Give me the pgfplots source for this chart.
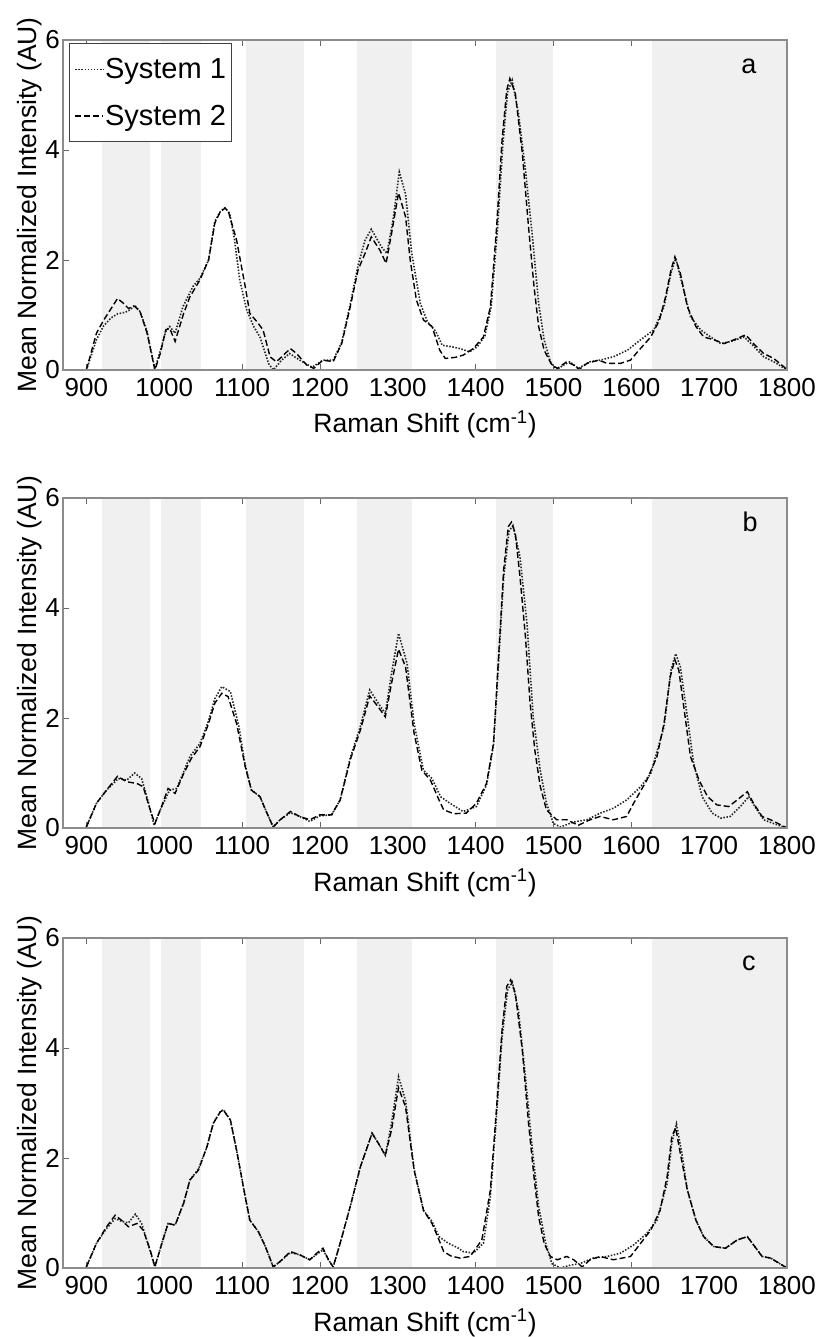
\documentclass[border=0pt]{standalone}
\usepackage{fontspec}
\setmainfont{Liberation Sans}
\usepackage{pgfplots}
\usepackage{pgfplotstable}
\pgfplotsset{compat=1.18}
\definecolor{bandgray}{HTML}{F0F0F0}

\pgfplotstableread{
x y
900 0.00
913 0.55
922 0.80
932 0.95
940 1.02
950 1.05
957 1.10
962 1.18
969 1.06
978 0.70
988 0.02
995 0.35
1002 0.70
1007 0.79
1014 0.67
1024 1.15
1037 1.52
1046 1.67
1057 2.00
1065 2.70
1072 2.88
1078 2.95
1084 2.85
1090 2.40
1097 1.64
1106 1.09
1115 0.79
1123 0.60
1134 0.12
1140 0.00
1151 0.18
1161 0.30
1174 0.18
1190 0.05
1204 0.18
1217 0.18
1228 0.50
1239 1.20
1249 1.90
1258 2.36
1266 2.56
1279 2.24
1286 2.12
1294 2.73
1302 3.60
1310 3.20
1318 2.12
1329 1.21
1338 0.88
1349 0.70
1357 0.45
1370 0.42
1380 0.39
1392 0.33
1402 0.42
1412 0.62
1420 1.15
1428 2.55
1435 4.10
1441 5.05
1447 5.27
1455 4.67
1464 3.64
1473 2.42
1481 1.21
1488 0.55
1496 0.15
1504 0.00
1513 0.09
1521 0.15
1532 0.03
1547 0.15
1560 0.18
1577 0.24
1595 0.36
1612 0.55
1629 0.73
1642 1.15
1651 1.76
1657 2.03
1665 1.58
1676 0.97
1689 0.73
1702 0.60
1715 0.48
1728 0.52
1745 0.60
1756 0.45
1770 0.24
1783 0.15
1800 0.00
}\aone

\pgfplotstableread{
x y
900 0.00
913 0.67
922 0.90
931 1.10
940 1.30
947 1.22
954 1.12
962 1.16
969 1.06
978 0.67
988 0.00
995 0.30
1002 0.73
1007 0.76
1014 0.52
1025 1.03
1033 1.33
1046 1.64
1057 2.00
1065 2.67
1072 2.88
1078 2.94
1082 2.90
1093 2.36
1104 1.52
1110 1.03
1119 0.88
1127 0.73
1136 0.24
1144 0.15
1151 0.24
1162 0.39
1170 0.30
1183 0.09
1192 0.03
1204 0.18
1217 0.15
1228 0.48
1239 1.15
1249 1.82
1258 2.12
1266 2.42
1277 2.18
1285 1.94
1292 2.48
1301 3.22
1310 2.79
1316 2.00
1324 1.27
1333 0.91
1344 0.79
1354 0.36
1361 0.21
1374 0.23
1384 0.27
1397 0.39
1410 0.60
1419 1.15
1427 2.60
1434 4.18
1440 5.09
1444 5.30
1451 5.03
1460 3.94
1468 2.60
1475 1.52
1481 0.79
1488 0.36
1498 0.09
1505 0.03
1517 0.15
1526 0.09
1533 0.01
1543 0.12
1558 0.18
1569 0.12
1586 0.12
1599 0.18
1608 0.33
1625 0.60
1636 0.90
1644 1.33
1651 1.82
1656 2.06
1663 1.76
1672 1.15
1683 0.79
1693 0.60
1706 0.55
1719 0.48
1732 0.55
1747 0.64
1757 0.48
1770 0.30
1783 0.21
1800 0.01
}\atwo

\pgfplotstableread{
x y
900 0.02
913 0.45
926 0.69
941 0.90
952 0.87
962 1.00
971 0.90
980 0.45
987 0.05
995 0.33
1007 0.69
1016 0.72
1025 1.02
1033 1.30
1046 1.54
1057 1.95
1065 2.35
1074 2.57
1085 2.48
1096 1.84
1104 1.15
1112 0.69
1123 0.57
1132 0.27
1140 0.02
1149 0.15
1162 0.28
1174 0.21
1187 0.12
1200 0.22
1215 0.24
1226 0.51
1239 1.28
1252 1.85
1264 2.51
1275 2.27
1284 2.08
1292 2.81
1301 3.54
1312 2.99
1321 1.90
1333 1.05
1344 0.90
1355 0.57
1367 0.45
1384 0.30
1401 0.39
1414 0.78
1423 1.50
1429 2.90
1436 4.55
1443 5.40
1448 5.50
1457 4.93
1466 3.72
1474 2.02
1483 1.05
1491 0.45
1500 0.08
1509 0.02
1526 0.11
1543 0.15
1560 0.27
1577 0.36
1594 0.51
1612 0.75
1625 0.99
1642 1.84
1651 2.87
1657 3.17
1663 2.93
1672 2.02
1680 1.18
1691 0.57
1704 0.27
1715 0.18
1727 0.21
1740 0.39
1751 0.57
1760 0.36
1770 0.15
1783 0.08
1800 0.00
}\bone

\pgfplotstableread{
x y
900 0.02
913 0.45
926 0.69
940 0.94
952 0.84
965 0.81
973 0.75
982 0.33
988 0.08
995 0.33
1005 0.72
1014 0.63
1025 0.99
1035 1.27
1046 1.48
1057 1.90
1065 2.27
1074 2.45
1082 2.39
1093 1.90
1104 1.12
1112 0.69
1123 0.57
1132 0.27
1140 0.02
1149 0.15
1162 0.30
1174 0.21
1187 0.15
1200 0.24
1215 0.24
1226 0.51
1239 1.24
1252 1.78
1264 2.40
1275 2.20
1284 2.02
1292 2.63
1301 3.25
1310 2.93
1321 1.72
1331 1.05
1342 0.87
1353 0.51
1359 0.33
1372 0.26
1388 0.27
1401 0.45
1414 0.81
1423 1.54
1429 2.99
1436 4.69
1442 5.48
1446 5.56
1451 5.36
1457 4.57
1464 3.48
1470 2.27
1476 1.42
1483 0.76
1491 0.33
1504 0.15
1517 0.15
1532 0.05
1547 0.15
1560 0.21
1577 0.15
1594 0.21
1603 0.45
1620 0.87
1633 1.30
1642 1.90
1650 2.75
1656 3.06
1661 2.87
1668 2.14
1676 1.30
1687 0.87
1698 0.57
1710 0.42
1725 0.39
1736 0.51
1749 0.66
1757 0.45
1768 0.21
1779 0.15
1800 0.00
}\btwo

\pgfplotstableread{
x y
900 0.02
913 0.45
926 0.72
937 0.90
945 0.85
954 0.82
963 0.98
971 0.81
980 0.40
988 0.02
997 0.45
1005 0.81
1014 0.78
1025 1.18
1033 1.60
1044 1.80
1055 2.21
1063 2.63
1072 2.84
1076 2.88
1085 2.69
1093 2.14
1104 1.30
1110 0.87
1121 0.66
1130 0.39
1140 0.02
1149 0.12
1162 0.28
1174 0.24
1187 0.15
1196 0.25
1204 0.33
1211 0.15
1217 0.02
1226 0.45
1239 1.12
1252 1.84
1267 2.45
1275 2.27
1284 2.05
1292 2.63
1301 3.48
1310 3.05
1321 1.80
1333 1.05
1344 0.85
1353 0.57
1365 0.45
1378 0.36
1384 0.30
1397 0.27
1410 0.45
1419 1.30
1427 2.80
1434 4.20
1441 5.05
1447 5.20
1455 4.69
1464 3.48
1473 2.14
1481 1.12
1490 0.45
1498 0.08
1509 0.00
1521 0.05
1534 0.08
1551 0.18
1569 0.21
1586 0.27
1603 0.42
1620 0.63
1633 0.87
1646 1.54
1652 2.27
1658 2.62
1665 2.08
1672 1.42
1683 0.87
1693 0.57
1706 0.39
1721 0.36
1736 0.51
1749 0.57
1757 0.42
1768 0.21
1779 0.18
1800 0.00
}\cone

\pgfplotstableread{
x y
900 0.02
913 0.45
926 0.75
937 0.96
945 0.87
954 0.75
965 0.81
973 0.69
982 0.33
988 0.02
997 0.45
1005 0.81
1014 0.78
1025 1.18
1033 1.60
1044 1.78
1055 2.21
1063 2.63
1072 2.84
1076 2.87
1085 2.69
1093 2.14
1104 1.30
1110 0.87
1121 0.66
1130 0.39
1140 0.02
1149 0.12
1162 0.30
1174 0.24
1187 0.15
1196 0.27
1204 0.36
1211 0.15
1217 0.02
1226 0.45
1239 1.12
1252 1.84
1267 2.45
1275 2.27
1284 2.05
1292 2.51
1301 3.28
1310 2.93
1321 1.78
1333 1.05
1344 0.81
1353 0.51
1359 0.30
1368 0.22
1380 0.18
1393 0.21
1408 0.51
1419 1.42
1427 2.93
1434 4.33
1440 5.12
1445 5.24
1451 5.00
1460 3.96
1468 2.63
1475 1.66
1481 0.93
1488 0.45
1496 0.21
1505 0.15
1517 0.21
1526 0.15
1537 0.02
1547 0.15
1560 0.21
1577 0.15
1599 0.21
1612 0.45
1625 0.69
1637 1.05
1646 1.66
1652 2.39
1657 2.55
1663 2.08
1672 1.42
1683 0.87
1693 0.57
1706 0.39
1721 0.36
1736 0.51
1749 0.57
1757 0.42
1768 0.21
1779 0.18
1800 0.00
}\ctwo

\pgfplotsset{
  panel/.style={
    scale only axis, width=724pt, height=330pt,
    xmin=870, xmax=1800, ymin=0, ymax=6,
    xtick={900,1000,...,1800}, ytick={0,2,4,6},
    xtick pos=both, ytick pos=both,
    tick align=inside, major tick length=6pt,
    every tick/.style={black!60, line width=0.8pt},
    axis line style={black!45, line width=1.2pt},
    scaled ticks=false,
    /pgf/number format/assume math mode=true,
    /pgf/number format/1000 sep={},
    ticklabel style={font=\fontsize{26}{30}\selectfont, inner sep=0pt},
    xticklabel style={anchor=north, yshift=-8pt},
    yticklabel style={anchor=east, xshift=-3pt},
    every axis x label/.style={at={(axis description cs:0.5,-0.1909)}, anchor=base, inner sep=0pt, font=\fontsize{26.5}{30}\selectfont},
    every axis y label/.style={at={(axis description cs:-0.0373,0.5)}, rotate=90, anchor=base, inner sep=0pt, font=\fontsize{26.5}{30}\selectfont},
    xlabel={Raman Shift (cm\textsuperscript{-1})},
    ylabel={Mean Normalized Intensity (AU)},
    legend image code/.code={\draw[##1] (0pt,0pt) -- (28pt,0pt);},
  },
  s1/.style={black!85, line width=1.6pt, dash pattern=on 1.5pt off 1.6pt},
  s2/.style={black, line width=1.4pt, dash pattern=on 6pt off 3pt},
  bands/.style={fill=bandgray, draw=none, forget plot},
}
\newcommand{\addbands}{%
  \addplot[bands] coordinates {(920,0) (982,0) (982,6) (920,6)} -- cycle;
  \addplot[bands] coordinates {(996,0) (1047,0) (1047,6) (996,6)} -- cycle;
  \addplot[bands] coordinates {(1105,0) (1180,0) (1180,6) (1105,6)} -- cycle;
  \addplot[bands] coordinates {(1248,0) (1318,0) (1318,6) (1248,6)} -- cycle;
  \addplot[bands] coordinates {(1426,0) (1500,0) (1500,6) (1426,6)} -- cycle;
  \addplot[bands] coordinates {(1626,0) (1800,0) (1800,6) (1626,6)} -- cycle;
}

\begin{document}
\begin{tikzpicture}
\path[use as bounding box] (0,0) rectangle (821pt,-1337pt);

\begin{axis}[panel, name=A, at={(63pt,-370pt)}, anchor=south west,
  legend style={at={(axis description cs:0.0083,0.991)}, anchor=north west,
    draw=black!75, line width=0.9pt, fill=white,
    font=\fontsize{29}{33}\selectfont,
    inner xsep=5pt, inner ysep=14pt, row sep=23pt,
    nodes={inner sep=1pt},
    /tikz/every even column/.append style={column sep=3pt}},
  legend cell align=left]
\addbands
\addplot[s1] table {\aone};
\addlegendentry{System 1}
\addplot[s2] table {\atwo};
\addlegendentry{System 2}
\node[font=\fontsize{27}{30}\selectfont] at (axis description cs:0.9475,0.921) {a};
\end{axis}
\draw[black!45, line width=1.2pt] (A.south west) rectangle (A.north east);

\begin{axis}[panel, name=B, at={(63pt,-828pt)}, anchor=south west]
\addbands
\addplot[s1] table {\bone};
\addplot[s2] table {\btwo};
\node[font=\fontsize{27}{30}\selectfont] at (axis description cs:0.949,0.927) {b};
\end{axis}
\draw[black!45, line width=1.2pt] (B.south west) rectangle (B.north east);

\begin{axis}[panel, name=C, at={(63pt,-1268pt)}, anchor=south west]
\addbands
\addplot[s1] table {\cone};
\addplot[s2] table {\ctwo};
\node[font=\fontsize{27}{30}\selectfont] at (axis description cs:0.9475,0.923) {c};
\end{axis}
\draw[black!45, line width=1.2pt] (C.south west) rectangle (C.north east);
\end{tikzpicture}
\end{document}
